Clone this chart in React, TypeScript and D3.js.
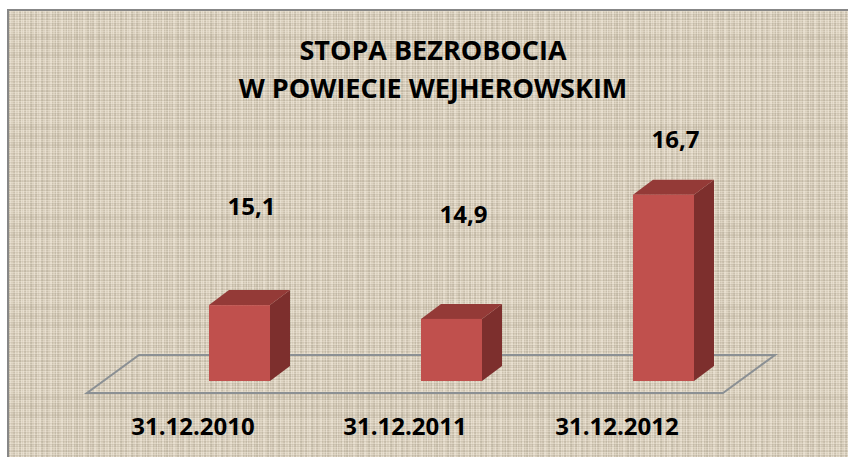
import React from "react";
import * as d3 from "d3";

const title = ["STOPA BEZROBOCIA", "W POWIECIE WEJHEROWSKIM"];
const categories = ["31.12.2010", "31.12.2011", "31.12.2012"];
const values = [15.1, 14.9, 16.7];
const valueLabels = ["15,1", "14,9", "16,7"];

const W = 848;
const H = 457;

// deterministic texture lines for the parchment background (decoration)
const texV = d3.range(0, 60, 1).map((i) => ({
  x: (i * 37) % 90,
  o: ((i * 53) % 7) / 7,
}));
const texH = d3.range(0, 60, 1).map((i) => ({
  y: (i * 29) % 90,
  o: ((i * 71) % 9) / 9,
}));

export default function App() {
  const x = d3
    .scalePoint<string>()
    .domain(categories)
    .range([133.5, 769.5])
    .padding(0.5);
  const y = d3.scaleLinear().domain([14, 17]).range([381, 174]);
  // perspective position of the 3D data labels
  const yLab = d3.scaleLinear().domain([14, 17]).range([260.3, 135.8]);

  const barW = 61;
  const bdx = 20;
  const bdy = -15;
  const floorFront = 393;
  const floorDx = 52;
  const floorDy = -38;
  const floorX0 = 87;
  const floorX1 = 723;

  const font = "'Open Sans', 'DejaVu Sans', sans-serif";

  return (
    <svg width={W} height={H} style={{ display: "block", position: "absolute", left: 0, top: 0 }}>
      <defs>
        <pattern id="tex" width={90} height={90} patternUnits="userSpaceOnUse">
          <rect width={90} height={90} fill="#d9cfbd" />
          {texV.map((d, i) => (
            <line
              key={"v" + i}
              x1={d.x + 0.5}
              x2={d.x + 0.5}
              y1={0}
              y2={90}
              stroke={d.o > 0.5 ? "#f2ebdd" : "#aaa08d"}
              strokeOpacity={0.25 + d.o * 0.3}
              strokeWidth={1}
            />
          ))}
          {texH.map((d, i) => (
            <line
              key={"h" + i}
              x1={0}
              x2={90}
              y1={d.y + 0.5}
              y2={d.y + 0.5}
              stroke={d.o > 0.5 ? "#efe7d8" : "#ada390"}
              strokeOpacity={0.2 + d.o * 0.25}
              strokeWidth={1}
            />
          ))}
        </pattern>
      </defs>
      <rect x={0} y={0} width={W} height={H} fill="#ffffff" />
      <rect x={8} y={10} width={W} height={H} fill="url(#tex)" stroke="#878787" strokeWidth={2} />

      {/* title */}
      <g fontFamily={font} fontWeight="bold" fill="#000" textAnchor="middle">
        <text x={433} y={60} fontSize={27}>{title[0]}</text>
        <text x={433} y={98} fontSize={27}>{title[1]}</text>
      </g>

      {/* floor */}
      <path
        d={`M${floorX0},${floorFront} L${floorX1},${floorFront} L${floorX1 + floorDx},${floorFront + floorDy} L${floorX0 + floorDx},${floorFront + floorDy} Z`}
        fill="none"
        stroke="#8b9094"
        strokeWidth={2}
      />

      {/* bars */}
      {categories.map((c, i) => {
        const cx = x(c)!;
        const x0 = cx - barW / 2;
        const x1 = cx + barW / 2;
        const yb = y(14);
        const yt = y(values[i]);
        return (
          <g key={c}>
            <path
              d={`M${x1},${yt} L${x1 + bdx},${yt + bdy} L${x1 + bdx},${yb + bdy} L${x1},${yb} Z`}
              fill="#7d2f2d"
            />
            <path
              d={`M${x0},${yt} L${x0 + bdx},${yt + bdy} L${x1 + bdx},${yt + bdy} L${x1},${yt} Z`}
              fill="#943a37"
            />
            <rect x={x0} y={yt} width={barW} height={yb - yt} fill="#c0504d" />
          </g>
        );
      })}

      {/* data labels */}
      <g fontFamily={font} fontWeight="bold" fill="#000" textAnchor="middle" fontSize={24}>
        {categories.map((c, i) => (
          <text key={c} x={x(c)! + 12} y={yLab(values[i])}>
            {valueLabels[i]}
          </text>
        ))}
      </g>

      {/* category labels */}
      <g fontFamily={font} fontWeight="bold" fill="#000" textAnchor="middle" fontSize={24}>
        {categories.map((c) => (
          <text key={c} x={x(c)! - 46.5} y={435}>
            {c}
          </text>
        ))}
      </g>
    </svg>
  );
}
